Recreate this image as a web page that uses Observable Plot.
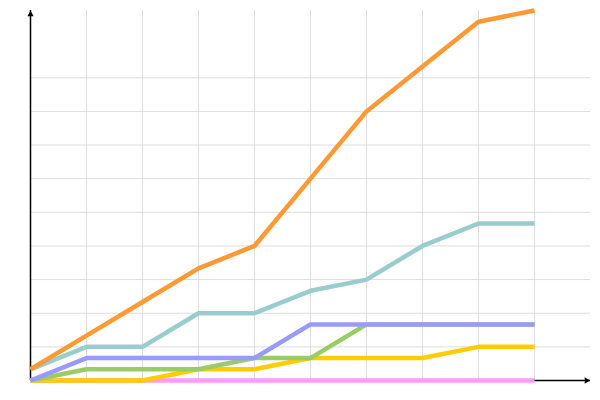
<!DOCTYPE html>
<html><head><meta charset="utf-8">
<script src="https://cdn.jsdelivr.net/npm/d3@7"></script>
<script src="https://cdn.jsdelivr.net/npm/@observablehq/plot@0.6"></script>
<style>html,body{margin:0;padding:0;background:#fff;font-family:"DejaVu Sans",sans-serif}</style>
</head><body><div id="chart"></div>
<script>
const steps = [0, 1, 2, 3, 4, 5, 6, 7, 8, 9];
const seriesF = [0, 0, 0, 0, 0, 0, 0, 0, 0, 0];
const seriesE = [0, 0, 0, 1, 1, 2, 2, 2, 3, 3];
const seriesD = [0, 1, 1, 1, 2, 2, 5, 5, 5, 5];
const seriesC = [0, 2, 2, 2, 2, 5, 5, 5, 5, 5];
const seriesB = [1, 3, 3, 6, 6, 8, 9, 12, 14, 14];
const seriesA = [1, 4, 7, 10, 12, 18, 24, 28, 32, 33];
const seriesNames = ["F", "E", "D", "C", "B", "A"];
const seriesColors = ["#ff99ff", "#ffcc00", "#99cc66", "#9999ff", "#99cccc", "#ff9933"];
const seriesValues = [seriesF, seriesE, seriesD, seriesC, seriesB, seriesA];
const gridX = [1, 2, 3, 4, 5, 6, 7, 8, 9];
const gridY = [3, 6, 9, 12, 15, 18, 21, 24, 27];

const rows = seriesNames.flatMap((name, k) =>
  steps.map((t, i) => ({series: name, step: t, value: seriesValues[k][i]})));

const chart = Plot.plot({
  width: 600, height: 400,
  marginLeft: 30, marginRight: 66, marginTop: 10, marginBottom: 20,
  x: {domain: [0, 9], axis: null},
  y: {domain: [0, 33], axis: null},
  color: {type: "ordinal", domain: seriesNames, range: seriesColors},
  marks: [
    Plot.ruleX(gridX, {y1: 0, y2: 33, stroke: "#dddddd", strokeWidth: 1}),
    Plot.ruleY(gridY, {x1: 0, x2: 10, stroke: "#dddddd", strokeWidth: 1}),
    Plot.ruleX([0], {y1: 0, y2: 33, stroke: "black", strokeWidth: 1.5}),
    Plot.ruleY([0], {x1: 0, x2: 10, stroke: "black", strokeWidth: 1.5}),
    Plot.dot([0], {x: 10, y: 0, symbol: "triangle2", r: 3, rotate: 90, fill: "black", dx: -4}),
    Plot.dot([0], {x: 0, y: 33, symbol: "triangle2", r: 3, fill: "black", dy: 4}),
    Plot.line(rows, {x: "step", y: "value", z: "series", stroke: "series",
      strokeWidth: 4.5, strokeLinecap: "butt", strokeLinejoin: "miter"})
  ]
});
document.getElementById("chart").appendChild(chart);
</script>
</body></html>
